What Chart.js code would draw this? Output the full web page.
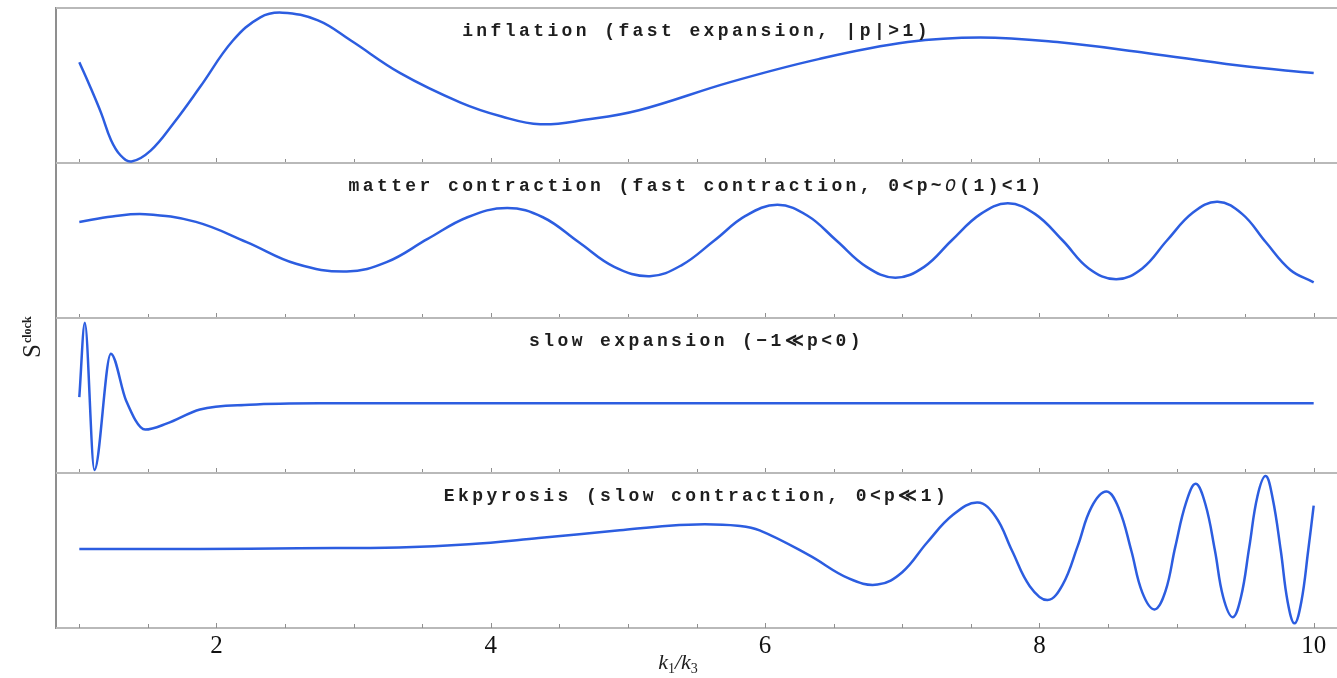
<!DOCTYPE html>
<html>
<head>
<meta charset="utf-8">
<script src="https://cdn.jsdelivr.net/npm/chart.js@4.4.0/dist/chart.umd.min.js"></script>
<style>
  html, body { margin: 0; padding: 0; background: #fff; }
  #wrap { width: 1337px; height: 678px; position: relative; }
</style>
</head>
<body>
<div id="wrap"><canvas id="chart_sclock"></canvas></div>
<script>
// k1/k3 positions and S^clock values (panel height = 1)
var inflationX = [1.0, 1.08, 1.16, 1.23, 1.30, 1.38, 1.52, 1.69, 1.88, 2.12, 2.32, 2.48, 2.74, 2.98, 3.34, 3.78, 4.08, 4.36, 4.70, 5.08, 5.74, 6.39, 7.04, 7.57, 8.13, 8.78, 9.44, 10.0];
var inflationY = [0.65, 0.49, 0.32, 0.15, 0.05, 0.01, 0.08, 0.26, 0.49, 0.79, 0.94, 0.97, 0.92, 0.79, 0.58, 0.39, 0.30, 0.25, 0.28, 0.34, 0.52, 0.67, 0.78, 0.81, 0.78, 0.71, 0.63, 0.58];

var matterX = [1.0, 1.24, 1.48, 1.85, 2.22, 2.58, 2.95, 3.24, 3.54, 3.83, 4.12, 4.38, 4.64, 4.90, 5.16, 5.39, 5.63, 5.86, 6.09, 6.31, 6.52, 6.74,
               6.95, 7.16, 7.36, 7.57, 7.77, 7.97, 8.17, 8.36, 8.56, 8.75, 8.93, 9.12, 9.30, 9.48, 9.65, 9.83, 10.0];
var matterY = [0.62, 0.655, 0.67, 0.62, 0.49, 0.35, 0.30, 0.36, 0.51, 0.65, 0.71, 0.65, 0.49, 0.33, 0.27, 0.34, 0.50, 0.66, 0.73, 0.66, 0.50, 0.33,
               0.26, 0.33, 0.50, 0.67, 0.74, 0.67, 0.50, 0.32, 0.25, 0.32, 0.50, 0.68, 0.75, 0.67, 0.49, 0.31, 0.23];

var slowX = [1.0, 1.04, 1.11, 1.23, 1.34, 1.48, 1.64, 1.88, 2.24, 2.75, 4.0, 6.0, 8.0, 10.0];
var slowY = [0.49, 0.97, 0.02, 0.77, 0.47, 0.28, 0.32, 0.41, 0.44, 0.45, 0.45, 0.45, 0.45, 0.45];

var ekpX = [1.0, 1.88, 2.60, 3.33, 3.84, 4.35, 4.94, 5.30, 5.56, 5.80, 5.96, 6.32, 6.61, 6.82, 7.00, 7.18, 7.37, 7.55, 7.68, 7.80, 7.93, 8.06,
            8.17, 8.28, 8.38, 8.49, 8.58, 8.67, 8.75, 8.84, 8.92, 8.99, 9.07, 9.14, 9.21, 9.28, 9.34, 9.41, 9.47, 9.53, 9.59, 9.65, 9.70, 9.76, 9.81, 9.86, 9.91, 9.96, 10.0];
var ekpY = [0.51, 0.51, 0.515, 0.52, 0.54, 0.58, 0.63, 0.66, 0.67, 0.66, 0.63, 0.47, 0.32, 0.28, 0.36, 0.55, 0.73, 0.81, 0.72, 0.50, 0.27, 0.18,
            0.28, 0.53, 0.78, 0.88, 0.77, 0.50, 0.23, 0.12, 0.24, 0.52, 0.81, 0.93, 0.80, 0.50, 0.20, 0.07, 0.20, 0.52, 0.85, 0.98, 0.84, 0.50, 0.17, 0.03, 0.17, 0.50, 0.79];

var tickValues = [1, 1.5, 2, 2.5, 3, 3.5, 4, 4.5, 5, 5.5, 6, 6.5, 7, 7.5, 8, 8.5, 9, 9.5, 10];
var labeledTicks = [2, 4, 6, 8, 10];

// panel titles, top to bottom; pieces marked italic are drawn in italics
var panelTitles = [
    [['inflation (fast expansion, |p|>1)', false]],
    [['matter contraction (fast contraction, 0<p~', false], ['O', true], ['(1)<1)', false]],
    [['slow expansion (\u22121\u226Ap<0)', false]],
    [['Ekpyrosis (slow contraction, 0<p\u226A1)', false]]
];
var panelAxes = ['y1', 'y2', 'y3', 'y4'];

var lineColor = '#2c5de0';

function points(xs, ys) {
    return xs.map(function (x, i) { return { x: x, y: ys[i] }; });
}

function series(label, xs, ys, axis, monotone) {
    var ds = {
        label: label,
        data: points(xs, ys),
        yAxisID: axis,
        borderColor: lineColor,
        borderWidth: 2.5,
        pointRadius: 0,
        fill: false
    };
    if (monotone) {
        ds.cubicInterpolationMode = 'monotone';
    } else {
        ds.tension = 0.4;
    }
    return ds;
}

function panelScale() {
    return {
        type: 'linear',
        position: 'left',
        stack: 'panels',
        stackWeight: 1,
        min: 0,
        max: 1,
        ticks: { display: false },
        grid: { display: false, drawTicks: false },
        border: { display: true, color: '#8f8f8f', width: 2 },
        afterFit: function (scale) { scale.width = 56; }
    };
}

var framePlugin = {
    id: 'framePlugin',
    beforeDatasetsDraw: function (chart) {
        var ctx = chart.ctx;
        var area = chart.chartArea;
        var xs = chart.scales.x;
        ctx.save();
        panelAxes.forEach(function (id) {
            var s = chart.scales[id];
            ctx.strokeStyle = '#b9b9b9';
            ctx.lineWidth = 2;
            ctx.beginPath();
            ctx.moveTo(area.left, s.top);
            ctx.lineTo(area.right, s.top);
            ctx.moveTo(area.left, s.bottom);
            ctx.lineTo(area.right, s.bottom);
            ctx.stroke();
            ctx.strokeStyle = '#8f8f8f';
            ctx.lineWidth = 1;
            ctx.beginPath();
            tickValues.forEach(function (v) {
                var px = Math.round(xs.getPixelForValue(v)) + 0.5;
                var len = labeledTicks.indexOf(v) >= 0 ? 5 : 4;
                ctx.moveTo(px, s.bottom);
                ctx.lineTo(px, s.bottom - len);
            });
            ctx.stroke();
        });
        ctx.restore();
    },
    afterDraw: function (chart) {
        var ctx = chart.ctx;
        var area = chart.chartArea;
        var cx = (area.left + area.right) / 2;
        ctx.save();
        ctx.fillStyle = '#1e1e1e';
        ctx.textBaseline = 'middle';
        ctx.letterSpacing = '3.4px';
        panelTitles.forEach(function (parts, i) {
            var s = chart.scales[panelAxes[i]];
            var total = 0;
            var pieces = parts.map(function (p) {
                var font = (p[1] ? 'italic ' : 'bold ') + '18px "Liberation Mono", "DejaVu Sans Mono", monospace';
                ctx.font = font;
                var w = ctx.measureText(p[0]).width;
                total += w;
                return { text: p[0], font: font, w: w };
            });
            var x = cx - total / 2;
            pieces.forEach(function (p) {
                ctx.font = p.font;
                ctx.textAlign = 'left';
                ctx.fillText(p.text, x, s.top + 23);
                x += p.w;
            });
        });
        ctx.letterSpacing = '0px';

        // y axis title S^clock
        ctx.save();
        ctx.translate(40, 358);
        ctx.rotate(-Math.PI / 2);
        ctx.textBaseline = 'alphabetic';
        ctx.textAlign = 'left';
        ctx.font = '25px "Liberation Serif", serif';
        ctx.fillText('S', 0, 0);
        var sw = ctx.measureText('S').width;
        ctx.font = 'bold 12px "Liberation Serif", serif';
        ctx.fillText('clock', sw + 1, -9);
        ctx.restore();

        // x axis title k1/k3
        var parts = [['k', 'italic 22px "Liberation Serif", serif', 0],
                     ['1', '14px "Liberation Serif", serif', 4],
                     ['/k', 'italic 22px "Liberation Serif", serif', 0],
                     ['3', '14px "Liberation Serif", serif', 4]];
        var tw = 0;
        parts.forEach(function (p) { ctx.font = p[1]; p.w = ctx.measureText(p[0]).width; tw += p.w; });
        var tx = 678 - tw / 2;
        ctx.textBaseline = 'alphabetic';
        ctx.textAlign = 'left';
        parts.forEach(function (p) {
            ctx.font = p[1];
            ctx.fillText(p[0], tx, area.bottom + 41 + p[2]);
            tx += p.w;
        });
        ctx.restore();
    }
};

var chart_sclock = new Chart(document.getElementById('chart_sclock'), {
    type: 'line',
    data: {
        datasets: [
            series('inflation', inflationX, inflationY, 'y1', false),
            series('matter contraction', matterX, matterY, 'y2', false),
            series('slow expansion', slowX, slowY, 'y3', true),
            series('Ekpyrosis', ekpX, ekpY, 'y4', false)
        ]
    },
    options: {
        animation: false,
        responsive: true,
        maintainAspectRatio: false,
        layout: { padding: { top: 8, right: 0, left: 0, bottom: 0 } },
        plugins: {
            legend: { display: false },
            tooltip: { enabled: false }
        },
        scales: {
            x: {
                type: 'linear',
                min: 0.83,
                max: 10.17,
                afterBuildTicks: function (scale) {
                    scale.ticks = tickValues.map(function (v) { return { value: v }; });
                },
                ticks: {
                    autoSkip: false,
                    maxRotation: 0,
                    padding: 3,
                    color: '#111',
                    font: { family: '"Liberation Serif", serif', size: 25 },
                    callback: function (value) {
                        return labeledTicks.indexOf(value) >= 0 ? String(value) : '';
                    }
                },
                grid: { display: false, drawTicks: false },
                border: { display: false },
                afterFit: function (scale) { scale.height = 50; }
            },
            y4: panelScale(),
            y3: panelScale(),
            y2: panelScale(),
            y1: panelScale()
        }
    },
    plugins: [framePlugin]
});
</script>
</body>
</html>
